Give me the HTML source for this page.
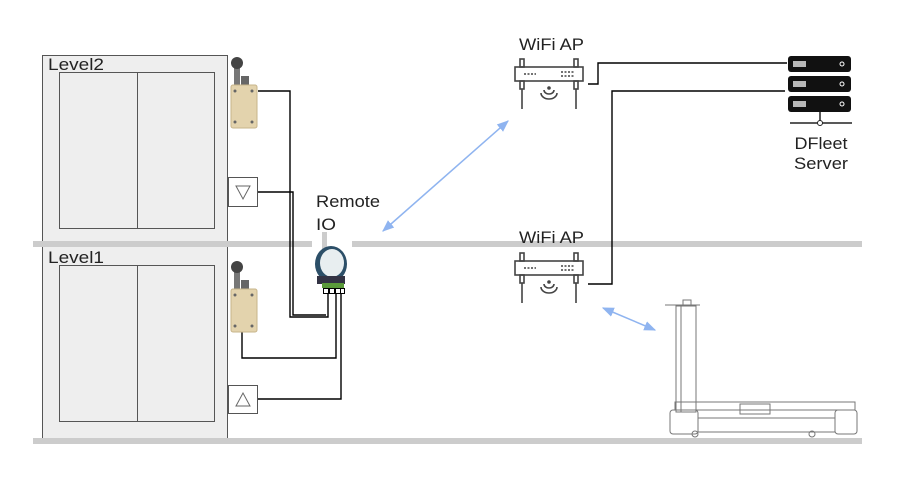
<!DOCTYPE html>
<html><head><meta charset="utf-8"><style>
html,body{margin:0;padding:0;background:#fff;}
svg{display:block;}
text{font-family:"Liberation Sans",sans-serif;fill:#222;}
</style></head><body>
<svg width="906" height="492" viewBox="0 0 906 492" xmlns="http://www.w3.org/2000/svg">
<defs>
<marker id="ah" viewBox="0 0 10 10" refX="9" refY="5" markerWidth="8" markerHeight="8" orient="auto-start-reverse"><path d="M0,1 L10,5 L0,9 z" fill="#8fb4f0"/></marker>
<g id="sw">
<rect x="4" y="0" width="6" height="28" fill="#777"/>
<circle cx="7" cy="5" r="6" fill="#444"/>
<rect x="11" y="18" width="8" height="12" fill="#666"/>
<rect x="1" y="27" width="26" height="43" rx="2" fill="#e3d3ad" stroke="#c7b48a"/>
<circle cx="5" cy="33" r="1.5" fill="#666"/><circle cx="22" cy="33" r="1.5" fill="#666"/>
<circle cx="5" cy="64" r="1.5" fill="#666"/><circle cx="22" cy="64" r="1.5" fill="#666"/>
</g>
<g id="ap" fill="none" stroke="#444" stroke-width="1.6">
<rect x="0" y="11" width="68" height="14"/>
<rect x="5" y="3" width="4" height="8"/><rect x="59" y="3" width="4" height="8"/>
<rect x="5" y="25" width="4" height="8"/><rect x="59" y="25" width="4" height="8"/>
<line x1="7" y1="33" x2="7" y2="53"/><line x1="61" y1="33" x2="61" y2="53"/>
<path d="M26,37 a8,6 0 0 0 16,0 M29,34 a5,4 0 0 0 10,0"/>
<circle cx="34" cy="32" r="1" fill="#444"/>
<path d="M9,18 h12 M46,16 h14 M46,20 h14" stroke-dasharray="2 1.5"/>
</g>
</defs>

<rect x="33" y="241" width="279" height="6" fill="#cccccc"/>
<rect x="352" y="241" width="510" height="6" fill="#cccccc"/>

<rect x="42.5" y="55.5" width="185" height="383" fill="#eeeeee" stroke="#555"/>
<rect x="33" y="241" width="200" height="6" fill="#cccccc"/>
<rect x="33" y="438" width="829" height="6" fill="#cccccc"/>
<rect x="59.5" y="72.5" width="155" height="156" fill="none" stroke="#555"/>
<line x1="137.5" y1="72" x2="137.5" y2="229" stroke="#555"/>
<rect x="59.5" y="265.5" width="155" height="156" fill="none" stroke="#555"/>
<line x1="137.5" y1="265" x2="137.5" y2="422" stroke="#555"/>
<text x="48" y="70" font-size="17" textLength="56" lengthAdjust="spacingAndGlyphs">Level2</text>
<text x="48" y="263" font-size="17" textLength="56" lengthAdjust="spacingAndGlyphs">Level1</text>

<g fill="none" stroke="#000" stroke-width="1.4">
<path d="M258,91 H290 V317 H328 V290"/>
<path d="M257,192 H293 V315 H326"/>
<path d="M242,332 V358 H336 V290"/>
<path d="M257,399 H341 V290"/>
<path d="M588,84 H598 V63 H787"/>
<path d="M588,284 H612 V91 H785"/>
</g>

<use href="#sw" x="230" y="58"/>
<use href="#sw" x="230" y="262"/>
<rect x="228.5" y="177.5" width="29" height="29" fill="#fff" stroke="#555"/>
<path d="M236,186 h14 l-7,13 z" fill="none" stroke="#666"/>
<rect x="228.5" y="385.5" width="29" height="28" fill="#fff" stroke="#555"/>
<path d="M236,406 h14 l-7,-13 z" fill="none" stroke="#666"/>

<text x="316" y="207" font-size="17" textLength="64" lengthAdjust="spacingAndGlyphs">Remote</text>
<text x="316" y="230" font-size="17" textLength="20" lengthAdjust="spacingAndGlyphs">IO</text>
<rect x="322" y="232" width="5" height="20" fill="#ccc"/>
<ellipse cx="331" cy="264" rx="16" ry="18" fill="#2c4f68"/>
<ellipse cx="332" cy="263" rx="12" ry="14" fill="#e8eef0"/>
<rect x="317" y="276" width="28" height="8" fill="#334"/>
<rect x="322" y="283" width="22" height="5" fill="#5a9a3a"/>
<g fill="#fff" stroke="#000" stroke-width="1"><rect x="323.5" y="288.5" width="5" height="5"/><rect x="329.5" y="288.5" width="5" height="5"/><rect x="335.5" y="288.5" width="5" height="5"/><rect x="340.5" y="288.5" width="4" height="5"/></g>

<line x1="383" y1="231" x2="508" y2="121" stroke="#8fb4f0" stroke-width="1.5" marker-start="url(#ah)" marker-end="url(#ah)"/>
<line x1="603" y1="308" x2="655" y2="330" stroke="#8fb4f0" stroke-width="1.5" marker-start="url(#ah)" marker-end="url(#ah)"/>

<text x="519" y="50" font-size="17" textLength="65" lengthAdjust="spacingAndGlyphs">WiFi AP</text>
<use href="#ap" x="515" y="56"/>
<text x="519" y="243" font-size="17" textLength="65" lengthAdjust="spacingAndGlyphs">WiFi AP</text>
<use href="#ap" x="515" y="250"/>

<g>
<rect x="788" y="56" width="63" height="16" rx="3" fill="#111"/>
<rect x="788" y="76" width="63" height="16" rx="3" fill="#111"/>
<rect x="788" y="96" width="63" height="16" rx="3" fill="#111"/>
<g fill="#fff"><rect x="793" y="61" width="13" height="6" opacity=".7"/><rect x="793" y="81" width="13" height="6" opacity=".7"/><rect x="793" y="101" width="13" height="6" opacity=".7"/></g>
<g fill="none" stroke="#fff"><circle cx="842" cy="64" r="2"/><circle cx="842" cy="84" r="2"/><circle cx="842" cy="104" r="2"/></g>
<line x1="820" y1="112" x2="820" y2="122" stroke="#222" stroke-width="1.5"/>
<line x1="790" y1="123" x2="852" y2="123" stroke="#222" stroke-width="1.5"/>
<circle cx="820" cy="123" r="2.5" fill="#fff" stroke="#222"/>
</g>
<text x="821" y="149" font-size="17" text-anchor="middle" textLength="53" lengthAdjust="spacingAndGlyphs">DFleet</text>
<text x="821" y="169" font-size="17" text-anchor="middle" textLength="54" lengthAdjust="spacingAndGlyphs">Server</text>

<g fill="none" stroke="#777" stroke-width="1">
<line x1="665" y1="305" x2="700" y2="305"/>
<rect x="676" y="306" width="20" height="106"/>
<line x1="681" y1="306" x2="681" y2="412"/>
<rect x="683" y="300" width="8" height="6"/>
<rect x="675" y="402" width="180" height="8"/>
<rect x="670" y="410" width="28" height="24" rx="3"/>
<rect x="835" y="410" width="22" height="24" rx="3"/>
<rect x="698" y="418" width="137" height="14"/>
<rect x="740" y="404" width="30" height="10"/>
<circle cx="695" cy="434" r="3"/><circle cx="812" cy="434" r="3"/>
</g>
</svg>
</body></html>
